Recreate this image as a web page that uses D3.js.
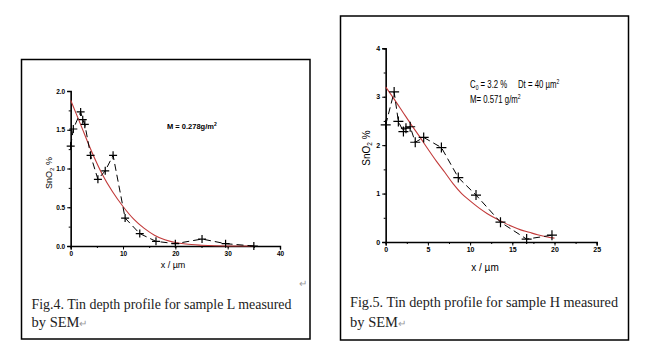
<!DOCTYPE html>
<meta charset="utf-8">
<style>
body { margin: 0; background: #fff; }
svg { font-family: Arial, "Liberation Sans", sans-serif; }
.cap { font-family: "Times New Roman", "Liberation Serif", serif; fill: #222; }
</style>
<body>
<script src="https://cdn.jsdelivr.net/npm/d3@7"></script>
<script>

// Fig.4 - sample L (measured points and fitted curve)
var xL = [0, 0.5, 1.9, 2.3, 2.7, 3.8, 5.2, 6.6, 8.1, 10.4, 13.2, 16.3, 20, 25.1, 29.6, 35];
var yL = [1.29, 1.51, 1.73, 1.63, 1.57, 1.17, 0.86, 0.97, 1.17, 0.36, 0.16, 0.06, 0.03, 0.09, 0.03, 0.0];
var fitXL = [0, 2, 4, 6, 8, 10, 12, 14, 16, 18, 20, 22, 25, 30, 35];
var fitYL = [1.88, 1.55, 1.22, 0.93, 0.70, 0.51, 0.35, 0.23, 0.14, 0.08, 0.045, 0.025, 0.01, 0.0, 0.0];
var xTicksL = [0, 10, 20, 30, 40];
var yTicksL = [0.0, 0.5, 1.0, 1.5, 2.0];

// Fig.5 - sample H
var xH = [0, 1.0, 1.5, 2.1, 2.4, 2.9, 3.5, 4.5, 6.6, 8.6, 10.7, 13.6, 16.7, 19.7];
var yH = [2.42, 3.1, 2.49, 2.28, 2.35, 2.38, 2.06, 2.16, 1.95, 1.33, 0.97, 0.41, 0.06, 0.14];
var fitXH = [0, 1, 2, 3, 4, 5, 6, 7, 8, 9, 10, 11, 12, 13, 14, 15, 16, 17, 18, 19, 20];
var fitYH = [3.2, 2.95, 2.69, 2.43, 2.18, 1.92, 1.67, 1.44, 1.2, 1.0, 0.85, 0.71, 0.59, 0.49, 0.4, 0.32, 0.25, 0.2, 0.15, 0.11, 0.08];
var xTicksH = [0, 5, 10, 15, 20, 25];
var yTicksH = [0, 1, 2, 3, 4];

var svg = d3.select("body").append("svg")
    .attr("width", 654)
    .attr("height", 354);

svg.append("rect").attr("width", 654).attr("height", 354).attr("fill", "#fff");

function panel(o) {
  var g = svg.append("g");

  // frame round figure + caption
  g.append("rect")
      .attr("x", o.box[0]).attr("y", o.box[1])
      .attr("width", o.box[2] - o.box[0]).attr("height", o.box[3] - o.box[1])
      .attr("fill", "none").attr("stroke", "#000").attr("stroke-width", 1.5);

  var x = d3.scaleLinear().domain(o.xDom).range(o.xRange);
  var y = d3.scaleLinear().domain(o.yDom).range(o.yRange);

  // minor ticks
  var xMinor = d3.range(o.xDom[0], o.xDom[1] + 0.001, o.xStep / 2);
  var yMinor = d3.range(o.yDom[0], o.yDom[1] + 0.001, o.yStep / 2);

  g.append("g")
      .attr("transform", "translate(0," + o.yRange[0] + ")")
      .call(d3.axisBottom(x).tickValues(xMinor).tickSize(2).tickFormat(""));
  g.append("g")
      .attr("transform", "translate(0," + o.yRange[0] + ")")
      .call(d3.axisBottom(x).tickValues(o.xTicks).tickSize(3.5).tickPadding(2)
        .tickFormat(d3.format(o.xFmt)))
      .call(function(s) { s.select(".domain").attr("stroke-width", 1.4); })
      .selectAll("text").attr("font-size", o.tickFont).attr("font-weight", "bold");

  g.append("g")
      .attr("transform", "translate(" + o.xRange[0] + ",0)")
      .call(d3.axisLeft(y).tickValues(yMinor).tickSize(2).tickFormat(""));
  g.append("g")
      .attr("transform", "translate(" + o.xRange[0] + ",0)")
      .call(d3.axisLeft(y).tickValues(o.yTicks).tickSize(3.5).tickPadding(2)
        .tickFormat(d3.format(o.yFmt)))
      .call(function(s) { s.select(".domain").attr("stroke-width", 1.4); })
      .selectAll("text").attr("font-size", o.tickFont).attr("font-weight", "bold");

  // fitted curve
  var line = d3.line().x(function(d) { return x(d[0]); }).y(function(d) { return y(d[1]); })
      .curve(d3.curveMonotoneX);
  g.append("path")
      .datum(d3.zip(o.fitX, o.fitY))
      .attr("d", line)
      .attr("fill", "none").attr("stroke", "#c23a3a").attr("stroke-width", 1.1);

  // measured data, dashed connector
  var pts = d3.zip(o.px, o.py);
  g.append("path")
      .datum(pts)
      .attr("d", d3.line().x(function(d) { return x(d[0]); }).y(function(d) { return y(d[1]); }))
      .attr("fill", "none").attr("stroke", "#000").attr("stroke-width", 1)
      .attr("stroke-dasharray", "7,4");

  var a = o.cross;
  g.selectAll(".pt")
    .data(pts)
    .enter().append("path")
      .attr("transform", function(d) { return "translate(" + x(d[0]) + "," + y(d[1]) + ")"; })
      .attr("d", "M" + (-a) + ",0H" + a + "M0," + (-a) + "V" + a)
      .attr("stroke", "#000").attr("stroke-width", 1.2);

  // axis titles
  var yl = g.append("text")
      .attr("transform", "translate(" + o.yLab[0] + "," + o.yLab[1] + ") rotate(-90)")
      .attr("text-anchor", "middle")
      .attr("font-size", o.labFont);
  yl.append("tspan").text("SnO");
  yl.append("tspan").attr("font-size", o.labFont * 0.65).attr("dy", 2).text("2");
  yl.append("tspan").attr("dy", -2).text(" %");

  g.append("text")
      .attr("x", o.xLab[0]).attr("y", o.xLab[1])
      .attr("text-anchor", "middle")
      .attr("font-size", o.labFont)
      .text("x / \u00b5m");

  // caption
  o.caption.forEach(function(c, i) {
    var t = g.append("text").attr("class", "cap")
        .attr("x", o.capX).attr("y", o.capY[i])
        .attr("font-size", 14.5);
    if (c.w) t.attr("textLength", c.w).attr("lengthAdjust", "spacingAndGlyphs");
    t.append("tspan").text(c.t);
    if (c.ret) t.append("tspan").attr("fill", "#999").attr("font-size", 10).text("\u21b5");
  });
}

panel({
  box: [21.5, 59.5, 310, 339],
  xDom: [0, 40], xRange: [70.7, 280],
  yDom: [0, 2], yRange: [246, 91],
  xStep: 10, yStep: 0.5,
  xTicks: xTicksL, yTicks: yTicksL, xFmt: "d", yFmt: ".1f",
  tickFont: 6.5, labFont: 9,
  fitX: fitXL, fitY: fitYL, px: xL, py: yL, cross: 4,
  yLab: [52, 173], xLab: [173, 268],
  caption: [{t: "Fig.4. Tin depth profile for sample L measured", w: 260},
            {t: "by SEM", ret: true}],
  capX: 31.5, capY: [309, 327]
});

panel({
  box: [340.5, 16, 628.5, 340],
  xDom: [0, 25], xRange: [385.7, 596.7],
  yDom: [0, 4], yRange: [242, 48.3],
  xStep: 5, yStep: 1,
  xTicks: xTicksH, yTicks: yTicksH, xFmt: "d", yFmt: "d",
  tickFont: 7, labFont: 10,
  fitX: fitXH, fitY: fitYH, px: xH, py: yH, cross: 5,
  yLab: [370, 148], xLab: [485, 271],
  caption: [{t: "Fig.5. Tin depth profile for sample H measured", w: 268},
            {t: "by SEM", ret: true}],
  capX: 350, capY: [307, 327]
});

// annotations
svg.append("text")
    .attr("x", 167).attr("y", 129)
    .attr("font-size", 7.5).attr("font-weight", "bold")
    .call(function(t) {
      t.append("tspan").text("M = 0.278g/m");
      t.append("tspan").attr("font-size", 5).attr("dy", -3).text("2");
    });

// narrow font look: squeeze horizontally
var ann = svg.append("g").attr("transform", "translate(470,0) scale(0.78,1)");

ann.append("text")
    .attr("x", 0).attr("y", 88)
    .attr("font-size", 10)
    .call(function(t) {
      t.append("tspan").text("C");
      t.append("tspan").attr("font-size", 6.5).attr("dy", 2).text("0");
      t.append("tspan").attr("dy", -2).text(" = 3.2 %");
    });

ann.append("text")
    .attr("x", (518 - 470) / 0.78).attr("y", 88)
    .attr("font-size", 10)
    .call(function(t) {
      t.append("tspan").text("Dt = 40 \u00b5m");
      t.append("tspan").attr("font-size", 6.5).attr("dy", -4).text("2");
    });

ann.append("text")
    .attr("x", 0).attr("y", 103)
    .attr("font-size", 10)
    .call(function(t) {
      t.append("tspan").text("M= 0.571 g/m");
      t.append("tspan").attr("font-size", 6.5).attr("dy", -4).text("2");
    });

// stray paragraph mark
svg.append("text")
    .attr("x", 299).attr("y", 287)
    .attr("font-size", 10).attr("fill", "#999")
    .text("\u21b5");

</script>
</body>
